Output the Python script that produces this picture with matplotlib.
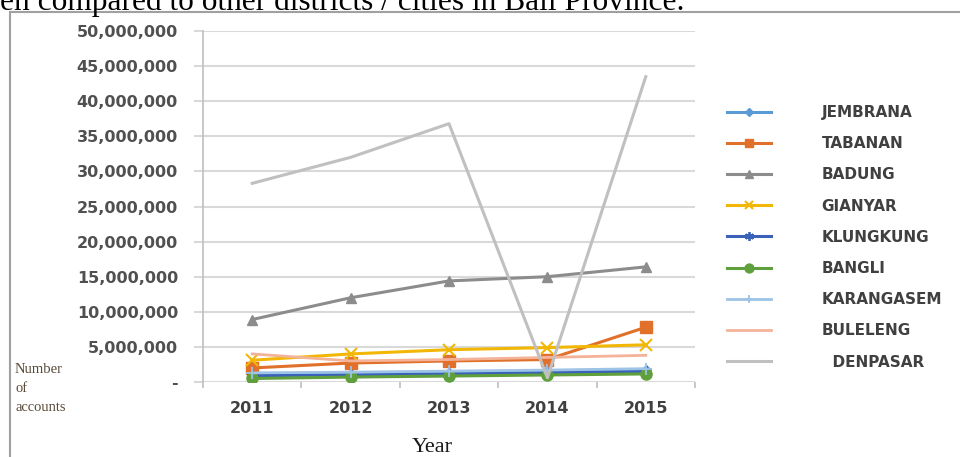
import matplotlib
matplotlib.use("Agg")
import matplotlib.pyplot as plt
from matplotlib.patches import Rectangle
import numpy as np

years = ["2011", "2012", "2013", "2014", "2015"]
districts = ["JEMBRANA", "TABANAN", "BADUNG", "GIANYAR", "KLUNGKUNG",
             "BANGLI", "KARANGASEM", "BULELENG", "DENPASAR"]

jembrana   = [1.1e6, 1.2e6, 1.35e6, 1.5e6, 1.7e6]
tabanan    = [2.0e6, 2.7e6, 3.0e6, 3.2e6, 7.8e6]
badung     = [8.9e6, 12.0e6, 14.4e6, 15.0e6, 16.4e6]
gianyar    = [3.1e6, 4.0e6, 4.6e6, 4.9e6, 5.3e6]
klungkung  = [0.9e6, 1.0e6, 1.15e6, 1.3e6, 1.5e6]
bangli     = [0.5e6, 0.7e6, 0.85e6, 1.0e6, 1.15e6]
karangasem = [1.3e6, 1.4e6, 1.55e6, 1.7e6, 1.9e6]
buleleng   = [4.0e6, 3.0e6, 3.2e6, 3.5e6, 3.8e6]
denpasar   = [28.3e6, 32.0e6, 36.8e6, 0.6e6, 43.5e6]

yticks = [0, 5e6, 10e6, 15e6, 20e6, 25e6, 30e6, 35e6, 40e6, 45e6, 50e6]
ytick_labels = ["-", "5,000,000", "10,000,000", "15,000,000", "20,000,000",
                "25,000,000", "30,000,000", "35,000,000", "40,000,000",
                "45,000,000", "50,000,000"]

series = [jembrana, tabanan, badung, gianyar, klungkung, bangli,
          karangasem, buleleng, denpasar]
styles = [
    dict(color="#5B9BD5", marker="D", ms=5, lw=2.2),
    dict(color="#E0702A", marker="s", ms=8, lw=2.2),
    dict(color="#8C8C8C", marker="^", ms=7, lw=2.2),
    dict(color="#F2B705", marker="x", ms=8, mew=1.5, lw=2.2),
    dict(color="#3A62B8", marker=(6, 2, 0), ms=8, mew=1.3, lw=2.2),
    dict(color="#5FA03C", marker="o", ms=8, lw=2.2),
    dict(color="#9DC3E6", marker="+", ms=8, mew=1.3, lw=2.0),
    dict(color="#F4B399", marker=None, lw=2.0),
    dict(color="#C0C0C0", marker=None, lw=2.2),
]

fig = plt.figure(figsize=(9.6, 4.57), dpi=100)
fig.patch.set_facecolor("white")

# page frame
fig.patches.append(Rectangle((10/960, -0.1), 1.2, 1 - 12/457 + 0.1,
                             transform=fig.transFigure, fill=False,
                             edgecolor="#A0A0A0", lw=1.5))

fig.text(0.0, 1 - 10/457, "en compared to other districts / cities in Bali Province.",
         family="Liberation Serif", fontsize=22.6, va="baseline", ha="left",
         color="black")

ax = fig.add_axes([203/960, 1 - 382/457, (695 - 203)/960, (382 - 31)/457])
x = np.arange(len(years))
for name, vals, st in zip(districts, series, styles):
    ax.plot(x, vals, label=name, zorder=3, **st)

ax.set_xlim(-0.5, len(years) - 0.5)
ax.set_ylim(0, 50e6)
ax.set_yticks(yticks)
ax.set_yticklabels(ytick_labels)
ax.set_xticks(x)
ax.set_xticklabels(years)
ax.set_xticks(np.arange(-0.5, len(years)), minor=True)
ax.grid(axis="y", color="#D9D9D9", lw=1.5, zorder=0)
for s in ["top", "right", "bottom"]:
    ax.spines[s].set_visible(False)
ax.spines["left"].set_color("#BFBFBF")
ax.spines["left"].set_linewidth(1.2)
ax.tick_params(axis="y", length=6.5, color="#D9D9D9", width=1.5, pad=11.5,
               labelsize=11.5, labelcolor="#505050")
ax.tick_params(axis="x", which="major", length=0, pad=14, labelsize=11.5,
               labelcolor="#404040")
ax.tick_params(axis="x", which="minor", length=4, color="#BFBFBF", width=1.2)
for lab in ax.get_yticklabels() + ax.get_xticklabels():
    lab.set_fontweight("bold")
    lab.set_family("DejaVu Sans")

fig.text(432/960, 1 - 448/457, "Year", family="Liberation Serif", fontsize=16,
         ha="center", va="center", color="#1a1a1a")
fig.text(15/960, 1 - 363/457, "Number\nof\naccounts", family="Liberation Serif",
         fontsize=10.5, ha="left", va="top", color="#5a4a3a", linespacing=1.62)

handles, labels = ax.get_legend_handles_labels()
labels = [l if l != "DENPASAR" else "  DENPASAR" for l in labels]
leg = fig.legend(handles, labels, loc="upper left",
                 bbox_to_anchor=(727/960, 1 - 105/457), frameon=False,
                 borderaxespad=0, borderpad=0, markerscale=0.8,
                 handlelength=2.9, handletextpad=3.3, labelspacing=1.06,
                 prop=dict(family="DejaVu Sans", size=11, weight="bold"))
for t in leg.get_texts():
    t.set_color("#404040")

fig.savefig("out.png", dpi=100, facecolor="white")
